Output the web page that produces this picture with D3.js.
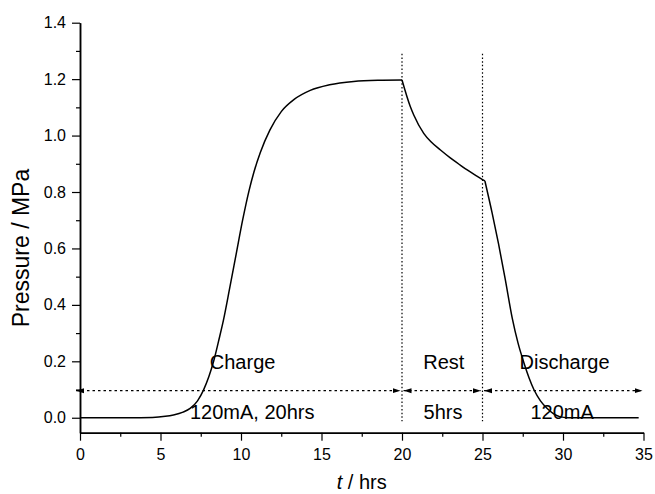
<!DOCTYPE html>
<html>
<head>
<meta charset="utf-8">
<script src="https://cdn.jsdelivr.net/npm/d3@7"></script>
<style>
  html, body { margin: 0; padding: 0; background: #fff; }
  svg { display: block; }
  text { font-family: Arial, "Liberation Sans", Helvetica, sans-serif; fill: #000; }
</style>
</head>
<body>
<svg id="chart" width="655" height="494"></svg>
<script>
// ---- data ----
const chargeT = [0, 3, 4.5, 5.3, 5.8, 6.4, 6.84, 7.3, 7.67, 8.0, 8.3, 8.6, 8.91, 9.3, 9.7, 10.1, 10.5, 10.8, 11.2, 11.8, 12.5, 13.3, 14.3, 15.5, 17, 18.5, 20];
const chargeP = [0, 0, 0.001, 0.005, 0.01, 0.02, 0.033, 0.06, 0.098, 0.145, 0.2, 0.27, 0.346, 0.46, 0.58, 0.7, 0.805, 0.87, 0.94, 1.02, 1.085, 1.128, 1.16, 1.18, 1.192, 1.196, 1.197];

const restT = [20, 20.52, 20.73, 21.35, 21.8, 22.39, 23, 23.6, 24.05, 24.6, 25.15];
const restP = [1.197, 1.102, 1.073, 1.008, 0.978, 0.949, 0.921, 0.896, 0.878, 0.858, 0.839];

const dischargeT = [25.15, 25.6, 26, 26.4, 26.85, 27.2, 27.57, 27.9, 28.19, 28.6, 29.02, 29.4, 29.8, 30.3, 32, 34.7];
const dischargeP = [0.839, 0.725, 0.615, 0.495, 0.352, 0.266, 0.195, 0.14, 0.1, 0.06, 0.033, 0.015, 0.004, 0, 0, 0];

const phaseStart = [0, 20, 25];
const phaseEnd = [20, 25, 35];
const phaseNames = ["Charge", "Rest", "Discharge"];
const phaseNotes = ["120mA, 20hrs", "5hrs", "120mA"];

const xTicks = [0, 5, 10, 15, 20, 25, 30, 35];
const yTicks = [0.0, 0.2, 0.4, 0.6, 0.8, 1.0, 1.2, 1.4];

// ---- layout ----
const svg = d3.select("#chart");
const x = d3.scaleLinear().domain([0, 35]).range([80, 643.5]);
const y = d3.scaleLinear().domain([-0.053, 1.4]).range([432.7, 22.7]);

// axes
const xMinor = d3.range(0, 35.01, 2.5).filter(v => xTicks.indexOf(v) < 0);
const yMinor = d3.range(0.1, 1.41, 0.2).map(v => +v.toFixed(2));

const gx = svg.append("g").attr("transform", `translate(0,${y(-0.053)})`);
gx.call(d3.axisBottom(x).tickValues(xTicks).tickFormat(d3.format("d")).tickSize(8).tickPadding(8).tickSizeOuter(0));
gx.append("g").call(d3.axisBottom(x).tickValues(xMinor).tickFormat("").tickSize(4).tickSizeOuter(0));

const gy = svg.append("g").attr("transform", `translate(${x(0)},0)`);
gy.call(d3.axisLeft(y).tickValues(yTicks).tickFormat(d3.format(".1f")).tickSize(8).tickPadding(6).tickSizeOuter(0));
gy.append("g").call(d3.axisLeft(y).tickValues(yMinor).tickFormat("").tickSize(4).tickSizeOuter(0));

svg.selectAll(".domain").attr("stroke", "#000").attr("stroke-width", 1.5);
svg.selectAll(".tick line").attr("stroke", "#000").attr("stroke-width", 1.2);
svg.selectAll(".tick text").style("font-size", "16px").style("font-family", 'Arial, "Liberation Sans", sans-serif');

// axis titles
svg.append("text")
  .attr("transform", `translate(29,248) rotate(-90)`)
  .attr("text-anchor", "middle")
  .style("font-size", "23px")
  .text("Pressure / MPa");

const xt = svg.append("text")
  .attr("x", (x(0) + x(35)) / 2)
  .attr("y", 489)
  .attr("text-anchor", "middle")
  .style("font-size", "20px");
xt.append("tspan").style("font-style", "italic").text("t");
xt.append("tspan").text(" / hrs");

// vertical phase boundaries
svg.selectAll("line.bound").data([20, 25]).enter().append("line")
  .attr("class", "bound")
  .attr("x1", d => x(d)).attr("x2", d => x(d))
  .attr("y1", y(1.29)).attr("y2", y(-0.012))
  .attr("stroke", "#000").attr("stroke-width", 1.2)
  .attr("stroke-dasharray", "1.5,2.2");

// arrow markers
const defs = svg.append("defs");
defs.append("marker").attr("id", "arrEnd")
  .attr("viewBox", "0 0 8 6").attr("refX", 8).attr("refY", 3)
  .attr("markerWidth", 8).attr("markerHeight", 6).attr("markerUnits", "userSpaceOnUse")
  .attr("orient", "auto")
  .append("path").attr("d", "M0,0.5 L8,3 L0,5.5 Z").attr("fill", "#000");
defs.append("marker").attr("id", "arrStart")
  .attr("viewBox", "0 0 8 6").attr("refX", 0).attr("refY", 3)
  .attr("markerWidth", 8).attr("markerHeight", 6).attr("markerUnits", "userSpaceOnUse")
  .attr("orient", "auto")
  .append("path").attr("d", "M8,0.5 L0,3 L8,5.5 Z").attr("fill", "#000");

const arrowV = 0.096;
svg.selectAll("line.span").data(phaseStart).enter().append("line")
  .attr("class", "span")
  .attr("x1", (d, i) => x(d) + (i === 0 ? -4 : 1.5))
  .attr("x2", (d, i) => x(phaseEnd[i]) - (i === 2 ? 1 : 1.5))
  .attr("y1", y(arrowV)).attr("y2", y(arrowV))
  .attr("stroke", "#000").attr("stroke-width", 1.2)
  .attr("stroke-dasharray", "2.5,3")
  .attr("marker-start", "url(#arrStart)")
  .attr("marker-end", "url(#arrEnd)");

// phase labels
const nameX = [10.1, 22.6, 30.1];
const noteX = [10.7, 22.55, 29.95];
svg.selectAll("text.pname").data(phaseNames).enter().append("text")
  .attr("class", "pname")
  .attr("x", (d, i) => x(nameX[i])).attr("y", 369)
  .attr("text-anchor", "middle").style("font-size", "20px")
  .text(d => d);
svg.selectAll("text.pnote").data(phaseNotes).enter().append("text")
  .attr("class", "pnote")
  .attr("x", (d, i) => x(noteX[i])).attr("y", 419)
  .attr("text-anchor", "middle").style("font-size", "20px")
  .text(d => d);

// pressure curve, one piece per phase
const line = d3.line().x(d => x(d[0])).y(d => y(d[1])).curve(d3.curveMonotoneX);
[[chargeT, chargeP], [restT, restP], [dischargeT, dischargeP]].forEach(([T, P]) => {
  svg.append("path")
    .datum(T.map((t, i) => [t, P[i]]))
    .attr("d", line)
    .attr("fill", "none")
    .attr("stroke", "#000")
    .attr("stroke-width", 1.5)
    .attr("stroke-linejoin", "round");
});
</script>
</body>
</html>
